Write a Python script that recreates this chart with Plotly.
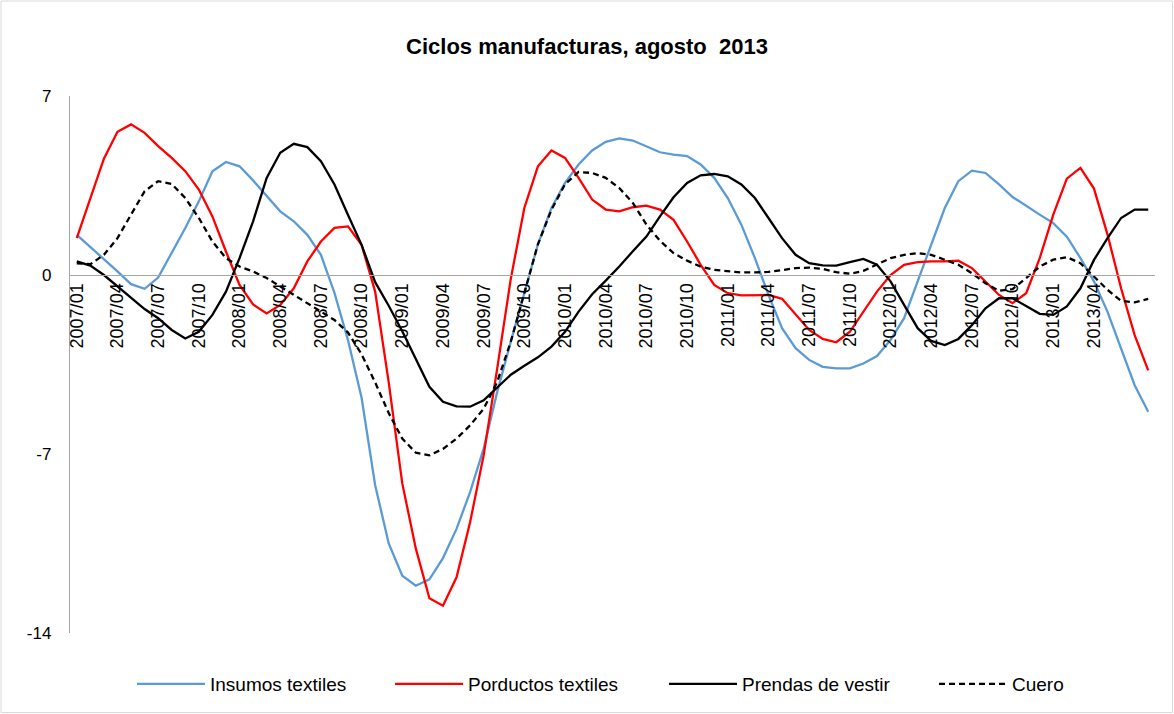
import plotly.graph_objects as go

# Months 2007/01 .. 2013/08
months = [f"{y}/{m:02d}" for y in range(2007, 2014) for m in range(1, 13)][:80]
tick_labels = months[:76:3]  # 2007/01 ... 2013/04

insumos = [1.57, 1.1, 0.62, 0.14, -0.36, -0.54, -0.1, 0.86, 1.84, 2.88,
           4.06, 4.42, 4.25, 3.7, 3.08, 2.49, 2.1, 1.57, 0.79, -0.7,
           -2.55, -4.8, -8.22, -10.5, -11.76, -12.15, -11.9, -11.07, -9.93, -8.49,
           -6.79, -4.57, -2.61, -0.7, 1.2, 2.62, 3.6, 4.32, 4.87, 5.21,
           5.34, 5.26, 5.04, 4.8, 4.71, 4.65, 4.32, 3.8, 3.01, 1.97,
           0.66, -0.78, -2.08, -2.86, -3.32, -3.59, -3.65, -3.65, -3.46, -3.17,
           -2.54, -1.69, -0.25, 1.18, 2.62, 3.67, 4.08, 3.99, 3.54, 3.05,
           2.69, 2.36, 2.03, 1.5, 0.66, -0.25, -1.44, -2.86, -4.31, -5.35]

productos = [1.44, 3.0, 4.55, 5.6, 5.89, 5.56, 5.04, 4.58, 4.06, 3.34,
             2.29, 0.92, -0.39, -1.15, -1.5, -1.17, -0.52, 0.53, 1.31, 1.84,
             1.9, 1.18, -0.65, -4.2, -8.15, -10.7, -12.64, -12.93, -11.82, -9.67,
             -7.05, -3.65, -0.15, 2.62, 4.25, 4.87, 4.58, 3.8, 2.95, 2.56,
             2.49, 2.65, 2.71, 2.56, 2.16, 1.31, 0.4, -0.39, -0.71, -0.8,
             -0.8, -0.78, -0.93, -1.56, -2.15, -2.5, -2.63, -2.22, -1.43, -0.65,
             0.0, 0.4, 0.5, 0.53, 0.53, 0.56, 0.27, -0.25, -0.78, -1.1,
             -0.71, 0.66, 2.36, 3.77, 4.19, 3.38, 1.58, -0.52, -2.35, -3.73]

prendas = [0.53, 0.37, 0.0, -0.45, -0.9, -1.33, -1.69, -2.15, -2.48, -2.22,
           -1.56, -0.65, 0.66, 2.1, 3.8, 4.78, 5.13, 5.0, 4.45, 3.54,
           2.35, 1.18, -0.28, -1.2, -2.2, -3.3, -4.37, -4.96, -5.14, -5.15,
           -4.9, -4.4, -3.9, -3.55, -3.22, -2.8, -2.22, -1.43, -0.75, -0.22,
           0.33, 0.93, 1.5, 2.29, 3.04, 3.6, 3.9, 3.95, 3.86, 3.54,
           3.01, 2.23, 1.44, 0.79, 0.46, 0.38, 0.37, 0.5, 0.63, 0.4,
           -0.25, -1.17, -2.08, -2.58, -2.74, -2.5, -1.96, -1.3, -0.91, -0.91,
           -1.23, -1.52, -1.56, -1.23, -0.52, 0.59, 1.44, 2.23, 2.56, 2.56]

cuero = [0.46, 0.42, 0.79, 1.44, 2.36, 3.27, 3.67, 3.56, 3.01, 2.23,
         1.31, 0.66, 0.33, 0.14, -0.12, -0.45, -0.78, -1.1, -1.43, -1.76,
         -2.25, -3.1, -4.2, -5.4, -6.4, -6.95, -7.05, -6.8, -6.4, -5.88,
         -5.23, -4.18, -2.61, -0.68, 1.2, 2.55, 3.55, 4.03, 3.99, 3.8,
         3.4, 2.82, 1.97, 1.34, 0.86, 0.56, 0.33, 0.2, 0.14, 0.1,
         0.1, 0.12, 0.19, 0.27, 0.29, 0.24, 0.11, 0.05, 0.16, 0.4,
         0.66, 0.79, 0.86, 0.79, 0.59, 0.4, 0.07, -0.32, -0.62, -0.55,
         -0.12, 0.33, 0.6, 0.7, 0.46, -0.06, -0.58, -1.01, -1.07, -0.93]

series_names = ["Insumos textiles", "Porductos textiles", "Prendas de vestir", "Cuero"]
y_ticks = [-14, -7, 0, 7]

W, H = 1174, 714
L, R, T, B = 70, 19, 96, 81

fig = go.Figure()
styles = [
    dict(color="#5B9BD5", width=2.3),
    dict(color="#FF0000", width=2.3),
    dict(color="#000000", width=2.3),
    dict(color="#000000", width=2.3, dash="6px,4px"),
]
data = [insumos, productos, prendas, cuero]
legend_ids = ["legend", "legend2", "legend3", "legend4"]
for name, vals, st, lg in zip(series_names, data, styles, legend_ids):
    fig.add_trace(go.Scatter(x=months, y=vals, mode="lines", name=name,
                             line=st, legend=lg))

font_leg = dict(family="Liberation Sans, Arial, sans-serif", size=19, color="#000000")
leg_x = [132, 390, 664, 934]
legs = {}
for lg, px in zip(legend_ids, leg_x):
    legs[lg] = dict(x=px / W, xref="container", xanchor="left",
                    y=1 - 684 / H, yref="container", yanchor="middle",
                    orientation="h", font=font_leg, bgcolor="rgba(0,0,0,0)",
                    itemwidth=68)

y_min, y_max = -14, 7
zero_pos = (0 - y_min) / (y_max - y_min)

fig.update_layout(
    width=W, height=H,
    margin=dict(l=L, r=R, t=T, b=B, autoexpand=False),
    paper_bgcolor="white", plot_bgcolor="white",
    title=dict(text="<b>Ciclos manufacturas, agosto  2013</b>",
               x=0.5, xanchor="center", xref="container",
               y=1 - 46 / H, yanchor="middle", yref="container",
               font=dict(family="Liberation Sans, Arial, sans-serif", size=22, color="#000000")),
    showlegend=True,
    **legs,
    xaxis=dict(type="category", range=[-0.5, 79.5], automargin=False,
               anchor="free", position=zero_pos,
               showline=True, linecolor="#A6A6A6", linewidth=1.3,
               showgrid=False, zeroline=False,
               tickmode="array", tickvals=tick_labels, ticktext=tick_labels,
               tickangle=-90, ticks="",
               tickfont=dict(family="Liberation Sans, Arial, sans-serif", size=18, color="#000000")),
    yaxis=dict(range=[y_min, y_max], tickvals=y_ticks, automargin=False,
               ticktext=[str(v) for v in y_ticks],
               showline=True, linecolor="#A6A6A6", linewidth=1.3,
               showgrid=False, zeroline=False, ticks="",
               ticklabelstandoff=14,
               tickfont=dict(family="Liberation Sans, Arial, sans-serif", size=17, color="#000000")),
)

pw, ph = W - L - R, H - T - B
fig.add_shape(type="rect", xref="paper", yref="paper",
              x0=-(L - 1) / pw, x1=1 + (R - 1.5) / pw,
              y0=-(B - 1.5) / ph, y1=1 + (T - 1) / ph,
              line=dict(color="#D9D9D9", width=1), fillcolor="rgba(0,0,0,0)",
              layer="below")

fig.write_html("out.html",
               config={"displayModeBar": False},
               post_script="document.body.style.margin='0';document.body.style.overflow='hidden';")
